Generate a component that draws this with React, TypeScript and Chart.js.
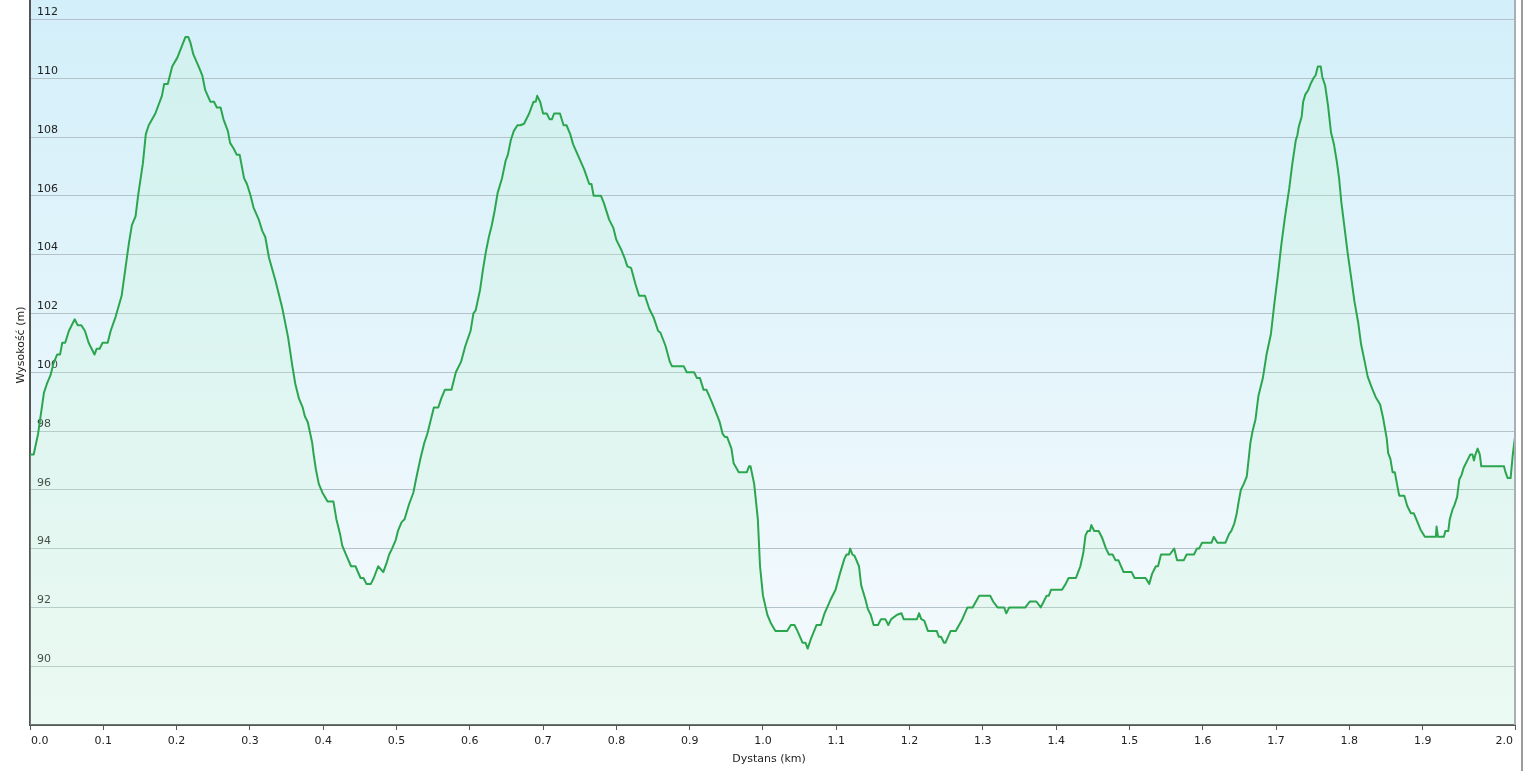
import React, { useEffect, useRef } from 'react';
import { Chart, registerables } from 'chart.js';

Chart.register(...registerables);

// Distance along the route (metres)
const distanceM = [
  0, 5, 11, 19, 23, 28, 32, 37, 41, 44,
  48, 53, 61, 65, 70, 75, 80, 88, 91, 95,
  99, 106, 110, 117, 125, 130, 135, 139, 144, 148,
  154, 158, 162, 171, 180, 183, 188, 194, 201, 212,
  216, 219, 223, 230, 235, 239, 246, 251, 255, 260,
  264, 270, 273, 278, 282, 286, 292, 296, 301, 305,
  312, 317, 321, 326, 335, 344, 352, 358, 362, 367,
  372, 375, 379, 385, 387, 390, 394, 399, 406, 414,
  418, 423, 426, 431, 438, 444, 451, 455, 459, 465,
  469, 475, 482, 487, 490, 494, 499, 502, 507, 511,
  517, 523, 527, 533, 538, 542, 546, 551, 557, 561,
  566, 575, 578, 581, 588, 594, 601, 605, 608, 614,
  618, 622, 626, 630, 634, 638, 644, 649, 652, 656,
  660, 665, 669, 674, 681, 687, 690, 692, 696, 700,
  705, 709, 712, 715, 723, 728, 732, 737, 741, 749,
  756, 763, 766, 769, 779, 783, 790, 796, 800, 806,
  811, 815, 820, 826, 831, 839, 845, 851, 857, 860,
  867, 873, 876, 892, 896, 906, 910, 914, 919, 923,
  930, 938, 941, 945, 948, 951, 957, 960, 967, 978,
  981, 983, 988, 993, 996, 1000, 1006, 1011, 1017, 1033,
  1038, 1043, 1047, 1054, 1058, 1061, 1065, 1073, 1079, 1084,
  1092, 1099, 1105, 1111, 1114, 1117, 1119, 1122, 1125, 1131,
  1134, 1140, 1143, 1147, 1151, 1157, 1161, 1167, 1171, 1175,
  1183, 1189, 1192, 1210, 1213, 1216, 1220, 1225, 1237, 1240,
  1243, 1247, 1249, 1256, 1263, 1272, 1279, 1286, 1295, 1310,
  1314, 1320, 1329, 1332, 1336, 1358, 1364, 1373, 1379, 1383,
  1387, 1390, 1393, 1408, 1413, 1417, 1427, 1430, 1433, 1437,
  1440, 1443, 1446, 1448, 1452, 1458, 1463, 1468, 1472, 1477,
  1481, 1485, 1492, 1503, 1507, 1522, 1527, 1531, 1536, 1539,
  1543, 1555, 1561, 1565, 1574, 1578, 1588, 1592, 1595, 1599,
  1612, 1615, 1620, 1631, 1636, 1639, 1643, 1646, 1649, 1652,
  1656, 1660, 1662, 1665, 1668, 1672, 1676, 1682, 1687, 1693,
  1698, 1703, 1707, 1712, 1718, 1722, 1727, 1729, 1731, 1735,
  1737, 1740, 1744, 1747, 1751, 1754, 1757, 1761, 1763, 1767,
  1771, 1775, 1779, 1783, 1786, 1789, 1794, 1798, 1802, 1807,
  1812, 1816, 1821, 1825, 1831, 1836, 1842, 1846, 1851, 1853,
  1856, 1859, 1862, 1868, 1875, 1879, 1884, 1888, 1893, 1897,
  1903, 1918, 1919, 1921, 1929, 1931, 1935, 1937, 1941, 1943,
  1947, 1950, 1953, 1956, 1961, 1965, 1968, 1970, 1972, 1975,
  1978, 1980, 2011, 2013, 2016, 2020, 2023, 2026,
];

// Elevation (m)
const elevationM = [
  97.2, 97.2, 97.9, 99.3, 99.6, 99.9, 100.3, 100.6, 100.6, 101.0,
  101.0, 101.4, 101.8, 101.6, 101.6, 101.4, 101.0, 100.6, 100.8, 100.8,
  101.0, 101.0, 101.4, 101.9, 102.6, 103.5, 104.4, 105.0, 105.3, 106.1,
  107.1, 108.1, 108.4, 108.8, 109.4, 109.8, 109.8, 110.4, 110.7, 111.4,
  111.4, 111.2, 110.8, 110.4, 110.1, 109.6, 109.2, 109.2, 109.0, 109.0,
  108.6, 108.2, 107.8, 107.6, 107.4, 107.4, 106.6, 106.4, 106.0, 105.6,
  105.2, 104.8, 104.6, 103.9, 103.1, 102.2, 101.2, 100.2, 99.6, 99.1,
  98.8, 98.5, 98.3, 97.6, 97.2, 96.7, 96.2, 95.9, 95.6, 95.6,
  95.0, 94.5, 94.1, 93.8, 93.4, 93.4, 93.0, 93.0, 92.8, 92.8,
  93.0, 93.4, 93.2, 93.55, 93.8, 94.0, 94.3, 94.6, 94.9, 95.0,
  95.5, 95.9, 96.4, 97.1, 97.6, 97.9, 98.3, 98.8, 98.8, 99.1,
  99.4, 99.4, 99.7, 100.0, 100.35, 100.9, 101.4, 102.0, 102.1, 102.8,
  103.5, 104.1, 104.6, 105.0, 105.5, 106.1, 106.6, 107.2, 107.4, 107.9,
  108.2, 108.4, 108.4, 108.45, 108.8, 109.2, 109.2, 109.4, 109.2, 108.8,
  108.8, 108.6, 108.6, 108.8, 108.8, 108.4, 108.4, 108.1, 107.75, 107.3,
  106.9, 106.4, 106.4, 106.0, 106.0, 105.75, 105.2, 104.9, 104.5, 104.2,
  103.9, 103.6, 103.55, 103.0, 102.6, 102.6, 102.15, 101.85, 101.4, 101.35,
  100.9, 100.35, 100.2, 100.2, 100.0, 100.0, 99.8, 99.8, 99.4, 99.4,
  99.0, 98.5, 98.3, 97.9, 97.8, 97.8, 97.4, 96.9, 96.6, 96.6,
  96.8, 96.8, 96.2, 95.0, 93.4, 92.4, 91.75, 91.45, 91.2, 91.2,
  91.4, 91.4, 91.2, 90.8, 90.8, 90.6, 90.9, 91.4, 91.4, 91.8,
  92.25, 92.6, 93.15, 93.65, 93.8, 93.8, 94.0, 93.8, 93.75, 93.4,
  92.75, 92.25, 91.95, 91.75, 91.4, 91.4, 91.6, 91.6, 91.4, 91.6,
  91.75, 91.8, 91.6, 91.6, 91.8, 91.6, 91.55, 91.2, 91.2, 91.0,
  91.0, 90.8, 90.8, 91.2, 91.2, 91.6, 92.0, 92.0, 92.4, 92.4,
  92.2, 92.0, 92.0, 91.8, 92.0, 92.0, 92.2, 92.2, 92.0, 92.2,
  92.4, 92.4, 92.6, 92.6, 92.8, 93.0, 93.0, 93.2, 93.4, 93.85,
  94.45, 94.6, 94.6, 94.8, 94.6, 94.6, 94.35, 94.0, 93.8, 93.8,
  93.6, 93.6, 93.2, 93.2, 93.0, 93.0, 92.8, 93.15, 93.4, 93.4,
  93.8, 93.8, 94.0, 93.6, 93.6, 93.8, 93.8, 94.0, 94.0, 94.2,
  94.2, 94.4, 94.2, 94.2, 94.5, 94.6, 94.85, 95.15, 95.6, 96.0,
  96.2, 96.45, 96.9, 97.6, 98.0, 98.4, 99.2, 99.8, 100.6, 101.3,
  102.4, 103.4, 104.3, 105.25, 106.25, 107.05, 107.9, 108.05, 108.35, 108.7,
  109.2, 109.45, 109.6, 109.8, 110.0, 110.1, 110.4, 110.4, 110.05, 109.75,
  109.05, 108.15, 107.75, 107.15, 106.6, 105.8, 104.8, 104.0, 103.3, 102.4,
  101.7, 100.95, 100.35, 99.85, 99.45, 99.15, 98.9, 98.45, 97.75, 97.25,
  97.05, 96.6, 96.6, 95.8, 95.8, 95.45, 95.2, 95.2, 94.9, 94.65,
  94.4, 94.4, 94.75, 94.4, 94.4, 94.6, 94.6, 95.0, 95.35, 95.45,
  95.75, 96.35, 96.5, 96.75, 97.0, 97.2, 97.2, 97.0, 97.2, 97.4,
  97.2, 96.8, 96.8, 96.6, 96.4, 96.4, 97.2, 97.8,
];

const xTicksKm = [0, 0.1, 0.2, 0.3, 0.4, 0.5, 0.6, 0.7, 0.8, 0.9, 1.0, 1.1, 1.2, 1.3, 1.4, 1.5, 1.6, 1.7, 1.8, 1.9];
const xMaxKm = 2.026;
const yTicks = [90, 92, 94, 96, 98, 100, 102, 104, 106, 108, 110, 112];
const yMin = 88;
const yMax = 112.66;

const xTitle = 'Dystans (km)';
const yTitle = 'Wysokość (m)';

const FONT = '"DejaVu Sans", Verdana, sans-serif';

export default function App() {
  const ref = useRef<HTMLCanvasElement>(null);

  useEffect(() => {
    const canvas = ref.current;
    if (!canvas) return;
    const points = distanceM.map((d, i) => ({ x: d / 1000, y: elevationM[i] }));

    const decor = {
      id: 'decor',
      beforeDraw(chart: any) {
        const { ctx, chartArea: a } = chart;
        const g = ctx.createLinearGradient(0, a.top, 0, a.bottom);
        g.addColorStop(0, '#d3eff9');
        g.addColorStop(1, '#f7fbfd');
        ctx.save();
        ctx.fillStyle = g;
        ctx.fillRect(a.left, a.top, a.right - a.left, a.bottom - a.top);
        ctx.restore();
      },
      afterDraw(chart: any) {
        const { ctx, chartArea: a } = chart;
        const xs = chart.scales.x;
        ctx.save();
        ctx.strokeStyle = '#a7b1b5';
        ctx.lineWidth = 2;
        ctx.beginPath();
        ctx.moveTo(a.right, a.top);
        ctx.lineTo(a.right, a.bottom);
        ctx.stroke();
        ctx.strokeStyle = '#9c9c9c';
        ctx.beginPath();
        ctx.moveTo(1522, 0);
        ctx.lineTo(1522, 771);
        ctx.stroke();
        ctx.fillStyle = '#222';
        ctx.font = `11px ${FONT}`;
        ctx.textBaseline = 'alphabetic';
        const ticks = xs.ticks;
        ticks.forEach((t: any, i: number) => {
          const px = xs.getPixelForValue(t.value);
          let align: CanvasTextAlign = 'center';
          let x = px;
          if (i === 0) { align = 'left'; x = px + 1; }
          else if (i === ticks.length - 1) { align = 'right'; x = px - 2; }
          ctx.textAlign = align;
          ctx.fillText(Number(t.value).toFixed(1), x, 744);
        });
        ctx.textAlign = 'center';
        ctx.fillText(xTitle, 769, 762);
        ctx.translate(21, 345);
        ctx.rotate(-Math.PI / 2);
        ctx.textBaseline = 'middle';
        ctx.fillText(yTitle, 0, 0);
        ctx.restore();
      },
    };

    const chart = new Chart(canvas, {
      type: 'line',
      data: {
        datasets: [
          {
            data: points,
            borderColor: '#2ba64f',
            borderWidth: 2,
            backgroundColor: 'rgba(195, 248, 205, 0.22)',
            fill: 'start',
            pointRadius: 0,
            tension: 0,
            borderJoinStyle: 'round',
          },
        ],
      },
      options: {
        responsive: false,
        animation: false,
        layout: { padding: { left: 0, right: 8, top: 0, bottom: 0 } },
        plugins: { legend: { display: false }, tooltip: { enabled: false } },
        scales: {
          x: {
            type: 'linear',
            min: 0,
            max: xMaxKm,
            afterBuildTicks: (s: any) => {
              s.ticks = [...xTicksKm, xMaxKm].map((v) => ({ value: v }));
            },
            afterFit: (s: any) => {
              s.height = 46;
              s.paddingLeft = 0;
              s.paddingRight = 0;
            },
            ticks: { display: false },
            grid: { drawOnChartArea: false, drawTicks: true, tickLength: 5, tickColor: '#555', tickWidth: 1 },
            border: { display: true, color: '#555', width: 2 },
          },
          y: {
            type: 'linear',
            min: yMin,
            max: yMax,
            afterBuildTicks: (s: any) => {
              s.ticks = yTicks.map((v) => ({ value: v }));
            },
            afterFit: (s: any) => {
              s.width = 30;
              s.paddingTop = 0;
              s.paddingBottom = 0;
            },
            ticks: {
              mirror: true,
              padding: 7,
              labelOffset: -7,
              color: '#222',
              autoSkip: false,
              font: { family: FONT, size: 11 },
              callback: (v: any) => String(v),
            },
            grid: { color: '#b3c2c8', drawTicks: false, lineWidth: 1 },
            border: { display: true, color: '#555', width: 2 },
          },
        },
      },
      plugins: [decor],
    } as any);

    return () => chart.destroy();
  }, []);

  return (
    <div style={{ position: 'absolute', left: 0, top: 0, width: 1523, height: 771, background: '#fff' }}>
      <canvas ref={ref} width={1523} height={771} style={{ display: 'block', width: 1523, height: 771 }} />
    </div>
  );
}
